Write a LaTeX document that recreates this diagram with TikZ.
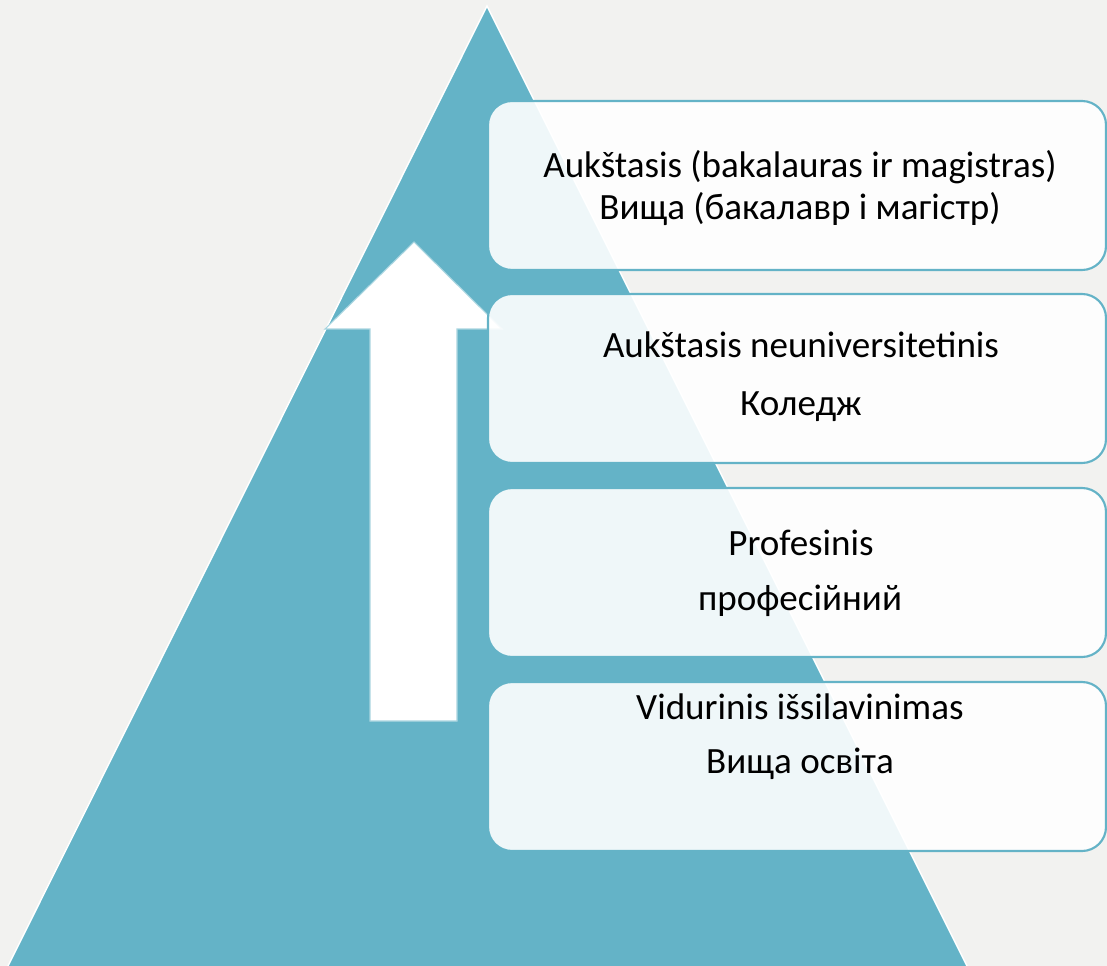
\documentclass[tikz,border=0pt]{standalone}
\usepackage{fontspec}
\setmainfont{Carlito}
\definecolor{pyrteal}{HTML}{64B3C7}
\definecolor{pyrback}{HTML}{F2F2F0}
\definecolor{pyredge}{HTML}{A9D5E0}
\begin{document}
\begin{tikzpicture}[x=0.75pt,y=-0.75pt,
	level/.style={draw=pyrteal, line width=1.6pt, rounded corners=18pt, fill=white, fill opacity=0.9, text opacity=1, inner sep=0pt, minimum width=463.5pt, minimum height=126.75pt},
	levtext/.style={anchor=base, font=\fontsize{27.8}{32}\selectfont}]
		%\draw[help lines] (0,0) grid[step=100] (1107,966);
		\fill[pyrback] (0,0) rectangle (1107,966);
		\useasboundingbox (0,0) rectangle (1107,966);
		
		\filldraw[fill=pyrteal, draw=white, line width=1.1pt] (487,6) -- (970,972) -- (5,972) -- cycle;
		
		\filldraw[fill=white, draw=pyredge, line width=0.8pt] (414,242) -- (502,329) -- (457,329) -- (457,721) -- (370,721) -- (370,329) -- (325,329) -- cycle;
		
		\foreach \i/\y in {1/185.5, 2/378.5, 3/572.5, 4/766.5}
			\node[level] (box\i) at (797,\y) {};
		
		\node[levtext] (hi1) at (800,178) {Aukštasis (bakalauras ir magistras)};
		\node[levtext] (hi2) at (800,220) {Вища (бакалавр і магістр)};
		\node[levtext] (col1) at (801,358) {Aukštasis neuniversitetinis};
		\node[levtext] (col2) at (801,415) {Коледж};
		\node[levtext] (pro1) at (801,555) {Profesinis};
		\node[levtext] (pro2) at (800,610) {професійний};
		\node[levtext] (sec1) at (800,719) {Vidurinis išsilavinimas};
		\node[levtext] (sec2) at (800,773) {Вища освіта};
\end{tikzpicture}
\end{document}
